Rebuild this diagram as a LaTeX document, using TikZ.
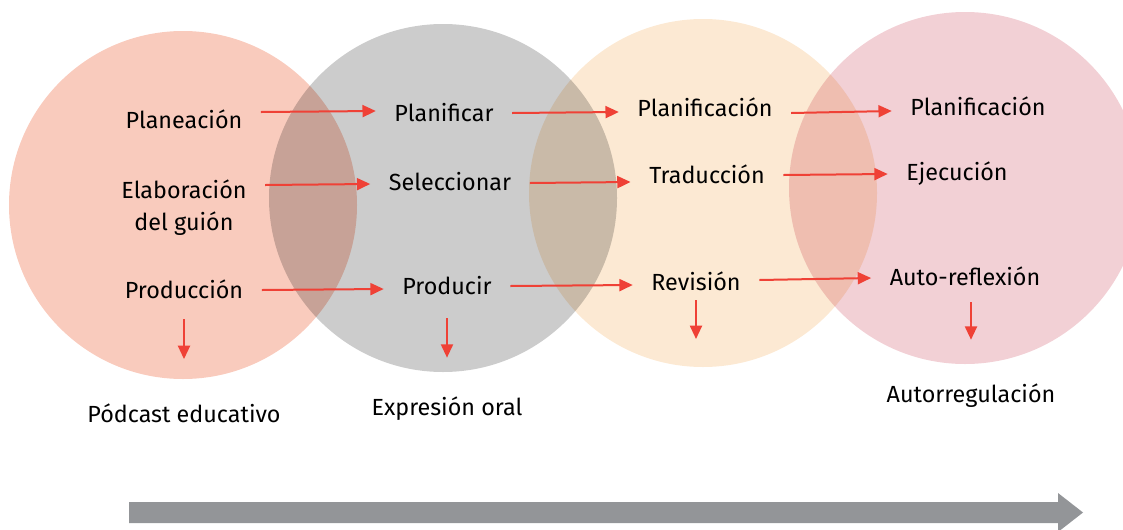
\documentclass[tikz,border=0pt]{standalone}
\usepackage{fontspec}
\setmainfont{Fira Sans}
\usetikzlibrary{arrows.meta}
\definecolor{cA}{HTML}{F9CBBD}
\definecolor{cB}{HTML}{CCCCCC}
\definecolor{cC}{HTML}{FCE9D3}
\definecolor{cD}{HTML}{F2D0D5}
\definecolor{arrred}{HTML}{EF4136}
\definecolor{biggray}{HTML}{939598}
\begin{document}
\begin{tikzpicture}[x=0.75pt,y=-0.75pt,
  circ/.style={blend mode=multiply},
  lbl/.style={font=\fontsize{17.5}{24}\selectfont, inner sep=0pt, outer xsep=14pt, text height=13pt, text depth=1pt, align=center},
  arr/.style={draw=arrred, line width=1.5pt, -{Triangle[length=10pt,width=9pt]}},
  bigarrow/.style={fill=biggray}]
\useasboundingbox (0,0) rectangle (1123,529);
% circles
\fill[cA, circ] (183,205) circle (174);
\fill[cB, circ] (443,198) circle (174);
\fill[cC, circ] (703,193) circle (174);
\fill[cD, circ] (965,188) circle (176);
% column 1
\node[lbl] (plan)  at (184,120) {Planeación};
\node[lbl] (elab)  at (184,222) {Elaboración\\del guión};
\node[lbl] (prod)  at (184,290) {Producción};
\node[lbl] (pod)   at (184,414) {Pódcast educativo};
% column 2
\node[lbl] (plf)   at (444,113) {Planificar};
\node[lbl] (sel)   at (450,182) {Seleccionar};
\node[lbl] (pdr)   at (447,286) {Producir};
\node[lbl] (expr)  at (447,407) {Expresión oral};
% column 3
\node[lbl] (plc)   at (705,108) {Planificación};
\node[lbl] (trad)  at (707,175) {Traducción};
\node[lbl] (rev)   at (696,282) {Revisión};
\coordinate (revend) at (696,339);
% column 4
\node[lbl] (plc2)  at (978,107) {Planificación};
\node[lbl] (ejec)  at (957,172) {Ejecución};
\node[lbl] (auto)  at (965,277) {Auto-reflexión};
\node[lbl] (autor) at (971,394) {Autorregulación};
% horizontal arrows
\draw[arr] ([yshift=6pt]plan.east) -- ([yshift=1.5pt]plf.west);
\draw[arr] ([yshift=-2.25pt]elab.east |- sel.west) -- ([yshift=-1.5pt]sel.west);
\draw[arr] (prod.east) -- ([yshift=-2.25pt]pdr.west);
\draw[arr] (plf.east) -- ([yshift=-3pt]plc.west);
\draw[arr] ([yshift=-0.75pt]sel.east) -- ([yshift=-5.25pt]trad.west);
\draw[arr] (pdr.east) -- ([yshift=-2.25pt]rev.west);
\draw[arr] ([yshift=-3.75pt]plc.east) -- ([yshift=-3pt]plc2.west);
\draw[arr] (trad.east) -- ([yshift=-1.5pt]ejec.west);
\draw[arr] ([yshift=1.5pt]rev.east) -- ([yshift=-0.75pt]auto.west);
% down arrows
\draw[arr, shorten <=14.8pt, shorten >=34pt] (prod.south) -- (pod.north);
\draw[arr, shorten <=17pt, shorten >=29.8pt] (pdr.south) -- (expr.north);
\draw[arr, shorten <=6.5pt] (rev.south) -- (revend);
\draw[arr, shorten <=11.8pt, shorten >=33.5pt] (autor.north |- auto.south) -- (autor.north);
% big gray arrow
\fill[bigarrow] (129,502) -- (1058,502) -- (1058,493) -- (1083,512.5) -- (1058,532) -- (1058,523) -- (129,523) -- cycle;
\end{tikzpicture}
\end{document}
